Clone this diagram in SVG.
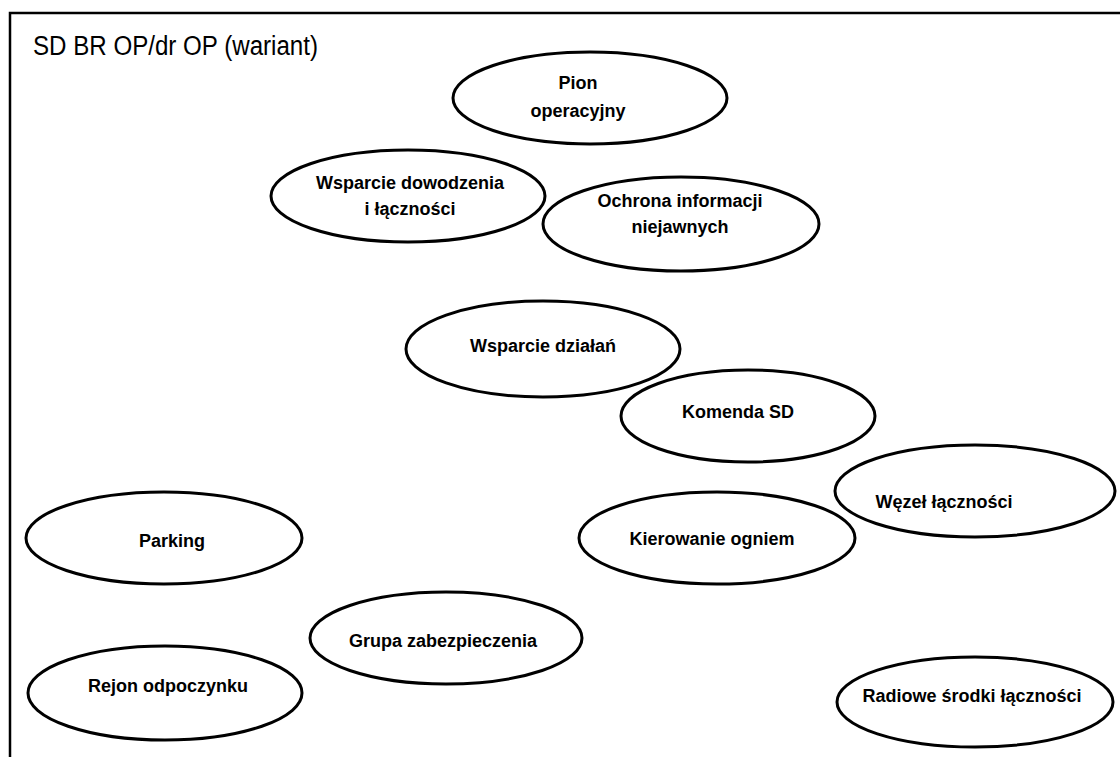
<svg xmlns="http://www.w3.org/2000/svg" width="1120" height="757" viewBox="0 0 1120 757">
<style>
.n ellipse{fill:#fff;stroke:#000;stroke-width:3}
.n text{font-family:"Liberation Sans",Arial,sans-serif;font-weight:bold;font-size:18px;fill:#000;text-anchor:middle}
.frame{stroke:#000;stroke-width:2.5;fill:none}
.title{font-family:"Liberation Sans",Arial,sans-serif;font-size:27px;fill:#000}
</style>
<rect width="1120" height="757" fill="#fff"/>
<path class="frame" d="M10,757 V13 H1120"/>
<text class="title" x="33" y="55" textLength="285" lengthAdjust="spacingAndGlyphs">SD BR OP/dr OP (wariant)</text>
<g id="connectors"></g>
<g id="pion" class="n"><ellipse cx="590" cy="98" rx="137" ry="46"/><text x="578" y="89">Pion</text><text x="578" y="117">operacyjny</text></g>
<g id="wsparcie-dowodzenia" class="n"><ellipse cx="408" cy="196" rx="137" ry="46"/><text x="410" y="189">Wsparcie dowodzenia</text><text x="410" y="215">i łączności</text></g>
<g id="ochrona" class="n"><ellipse cx="681" cy="224" rx="138" ry="47"/><text x="680" y="207">Ochrona informacji</text><text x="680" y="233">niejawnych</text></g>
<g id="wsparcie-dzialan" class="n"><ellipse cx="543" cy="349" rx="137" ry="48"/><text x="543" y="352">Wsparcie działań</text></g>
<g id="komenda" class="n"><ellipse cx="748" cy="416" rx="127" ry="46"/><text x="738" y="418">Komenda SD</text></g>
<g id="wezel" class="n"><ellipse cx="975" cy="491" rx="140" ry="46"/><text x="944" y="508">Węzeł łączności</text></g>
<g id="kierowanie" class="n"><ellipse cx="717" cy="538" rx="138" ry="46"/><text x="712" y="545">Kierowanie ogniem</text></g>
<g id="parking" class="n"><ellipse cx="164" cy="538" rx="138" ry="46"/><text x="172" y="547">Parking</text></g>
<g id="grupa" class="n"><ellipse cx="446" cy="638" rx="136" ry="46"/><text x="443" y="647">Grupa zabezpieczenia</text></g>
<g id="rejon" class="n"><ellipse cx="165" cy="693" rx="137" ry="47"/><text x="168" y="692">Rejon odpoczynku</text></g>
<g id="radiowe" class="n"><ellipse cx="975" cy="702" rx="138" ry="45"/><text x="972" y="702">Radiowe środki łączności</text></g>
</svg>
